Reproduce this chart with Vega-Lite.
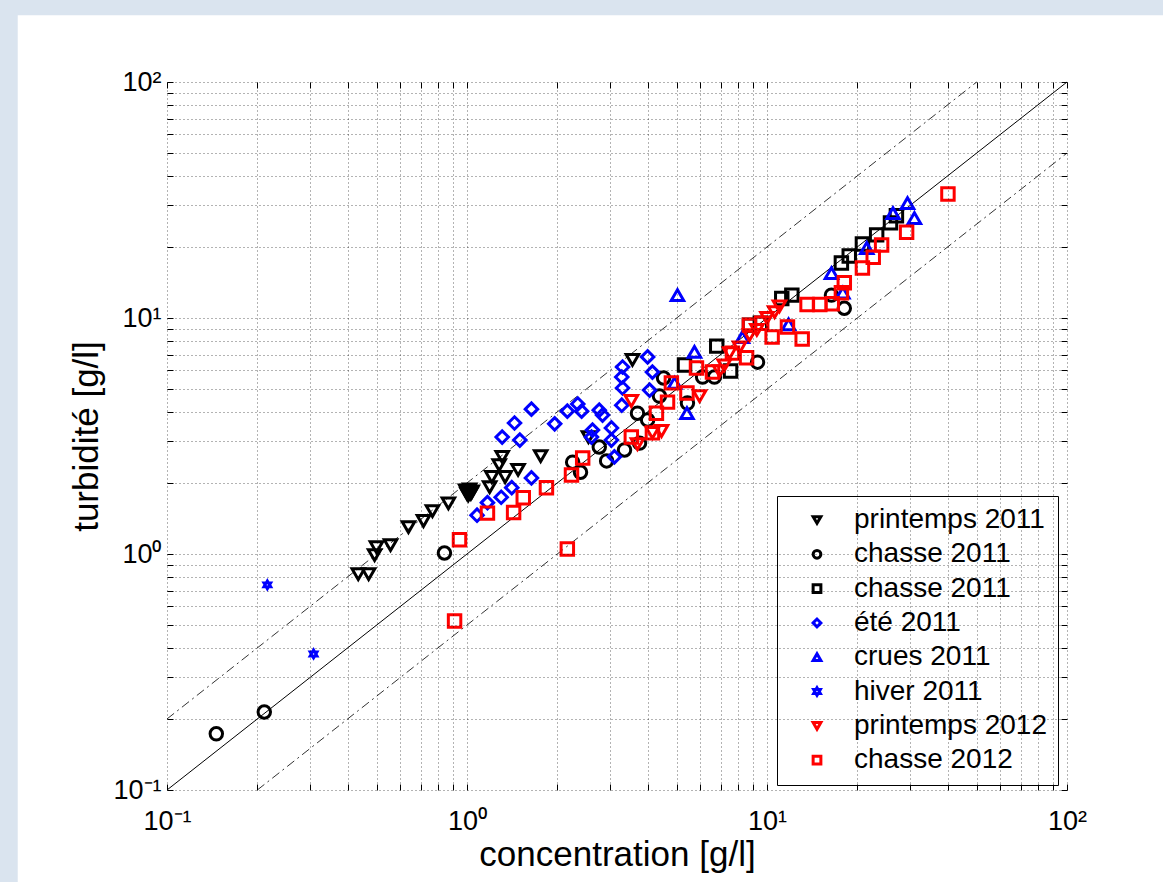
{
  "$schema": "https://vega.github.io/schema/vega-lite/v6.json",
  "width": 900,
  "height": 708,
  "autosize": {"type": "none"},
  "padding": {"left": 167, "top": 82, "right": 96, "bottom": 92},
  "background": "#dae4ef",
  "config": {
    "font": "Liberation Sans",
    "view": {"stroke": "#000", "strokeWidth": 1}
  },
  "datasets": {
    "refs": [
      {"ligne": "1:1", "concentration": 0.1, "turbidite": 0.1},
      {"ligne": "1:1", "concentration": 100, "turbidite": 100},
      {"ligne": "x2", "concentration": 0.1, "turbidite": 0.2},
      {"ligne": "x2", "concentration": 50, "turbidite": 100},
      {"ligne": "x0.5", "concentration": 0.2, "turbidite": 0.1},
      {"ligne": "x0.5", "concentration": 100, "turbidite": 50}
    ],
    "mesures": [
      {"serie": "printemps 2011", "concentration": 0.434, "turbidite": 0.822},
      {"serie": "printemps 2011", "concentration": 0.47, "turbidite": 0.822},
      {"serie": "printemps 2011", "concentration": 0.492, "turbidite": 0.99},
      {"serie": "printemps 2011", "concentration": 0.499, "turbidite": 1.07},
      {"serie": "printemps 2011", "concentration": 0.556, "turbidite": 1.09},
      {"serie": "printemps 2011", "concentration": 0.638, "turbidite": 1.3},
      {"serie": "printemps 2011", "concentration": 0.716, "turbidite": 1.38},
      {"serie": "printemps 2011", "concentration": 0.767, "turbidite": 1.52},
      {"serie": "printemps 2011", "concentration": 0.867, "turbidite": 1.64},
      {"serie": "printemps 2011", "concentration": 0.99, "turbidite": 1.86},
      {"serie": "printemps 2011", "concentration": 1.0, "turbidite": 1.8},
      {"serie": "printemps 2011", "concentration": 1.01, "turbidite": 1.84},
      {"serie": "printemps 2011", "concentration": 1.02, "turbidite": 1.88},
      {"serie": "printemps 2011", "concentration": 1.03, "turbidite": 1.8},
      {"serie": "printemps 2011", "concentration": 1.01, "turbidite": 1.77},
      {"serie": "printemps 2011", "concentration": 1.04, "turbidite": 1.84},
      {"serie": "printemps 2011", "concentration": 1.19, "turbidite": 1.92},
      {"serie": "printemps 2011", "concentration": 1.21, "turbidite": 2.12},
      {"serie": "printemps 2011", "concentration": 1.28, "turbidite": 2.38},
      {"serie": "printemps 2011", "concentration": 1.31, "turbidite": 2.58},
      {"serie": "printemps 2011", "concentration": 1.34, "turbidite": 2.12},
      {"serie": "printemps 2011", "concentration": 1.48, "turbidite": 2.27},
      {"serie": "printemps 2011", "concentration": 1.76, "turbidite": 2.6},
      {"serie": "printemps 2011", "concentration": 2.54, "turbidite": 3.13},
      {"serie": "printemps 2011", "concentration": 3.56, "turbidite": 6.64},
      {"serie": "chasse 2011", "concentration": 0.146, "turbidite": 0.173},
      {"serie": "chasse 2011", "concentration": 0.211, "turbidite": 0.214},
      {"serie": "chasse 2011", "concentration": 0.841, "turbidite": 1.01},
      {"serie": "chasse 2011", "concentration": 2.25, "turbidite": 2.45},
      {"serie": "chasse 2011", "concentration": 2.39, "turbidite": 2.22},
      {"serie": "chasse 2011", "concentration": 2.76, "turbidite": 2.84},
      {"serie": "chasse 2011", "concentration": 2.92, "turbidite": 2.48},
      {"serie": "chasse 2011", "concentration": 3.35, "turbidite": 2.76},
      {"serie": "chasse 2011", "concentration": 3.76, "turbidite": 2.95},
      {"serie": "chasse 2011", "concentration": 3.7, "turbidite": 3.95},
      {"serie": "chasse 2011", "concentration": 4.0, "turbidite": 3.7},
      {"serie": "chasse 2011", "concentration": 4.38, "turbidite": 4.67},
      {"serie": "chasse 2011", "concentration": 4.52, "turbidite": 5.57},
      {"serie": "chasse 2011", "concentration": 5.43, "turbidite": 4.36},
      {"serie": "chasse 2011", "concentration": 6.1, "turbidite": 5.62},
      {"serie": "chasse 2011", "concentration": 6.68, "turbidite": 5.62},
      {"serie": "chasse 2011", "concentration": 9.3, "turbidite": 6.5},
      {"serie": "chasse 2011", "concentration": 16.4, "turbidite": 12.5},
      {"serie": "chasse 2011", "concentration": 18.1, "turbidite": 11.0},
      {"serie": "chasse 2011 (carrés)", "concentration": 5.31, "turbidite": 6.32},
      {"serie": "chasse 2011 (carrés)", "concentration": 6.8, "turbidite": 7.6},
      {"serie": "chasse 2011 (carrés)", "concentration": 7.56, "turbidite": 5.96},
      {"serie": "chasse 2011 (carrés)", "concentration": 8.74, "turbidite": 9.33},
      {"serie": "chasse 2011 (carrés)", "concentration": 9.5, "turbidite": 9.5},
      {"serie": "chasse 2011 (carrés)", "concentration": 11.2, "turbidite": 12.1},
      {"serie": "chasse 2011 (carrés)", "concentration": 12.1, "turbidite": 12.5},
      {"serie": "chasse 2011 (carrés)", "concentration": 17.7, "turbidite": 17.1},
      {"serie": "chasse 2011 (carrés)", "concentration": 18.8, "turbidite": 18.3},
      {"serie": "chasse 2011 (carrés)", "concentration": 20.8, "turbidite": 20.6},
      {"serie": "chasse 2011 (carrés)", "concentration": 23.2, "turbidite": 22.5},
      {"serie": "chasse 2011 (carrés)", "concentration": 25.8, "turbidite": 25.3},
      {"serie": "chasse 2011 (carrés)", "concentration": 27.0, "turbidite": 27.1},
      {"serie": "été 2011", "concentration": 1.08, "turbidite": 1.46},
      {"serie": "été 2011", "concentration": 1.17, "turbidite": 1.65},
      {"serie": "été 2011", "concentration": 1.3, "turbidite": 1.74},
      {"serie": "été 2011", "concentration": 1.41, "turbidite": 1.91},
      {"serie": "été 2011", "concentration": 1.64, "turbidite": 2.1},
      {"serie": "été 2011", "concentration": 1.31, "turbidite": 3.13},
      {"serie": "été 2011", "concentration": 1.44, "turbidite": 3.59},
      {"serie": "été 2011", "concentration": 1.5, "turbidite": 3.04},
      {"serie": "été 2011", "concentration": 1.64, "turbidite": 4.11},
      {"serie": "été 2011", "concentration": 1.96, "turbidite": 3.56},
      {"serie": "été 2011", "concentration": 2.16, "turbidite": 4.03},
      {"serie": "été 2011", "concentration": 2.34, "turbidite": 4.32},
      {"serie": "été 2011", "concentration": 2.41, "turbidite": 4.03},
      {"serie": "été 2011", "concentration": 2.76, "turbidite": 4.07},
      {"serie": "été 2011", "concentration": 2.83, "turbidite": 3.88},
      {"serie": "été 2011", "concentration": 2.62, "turbidite": 3.35},
      {"serie": "été 2011", "concentration": 2.6, "turbidite": 3.13},
      {"serie": "été 2011", "concentration": 3.03, "turbidite": 3.42},
      {"serie": "été 2011", "concentration": 3.03, "turbidite": 3.04},
      {"serie": "été 2011", "concentration": 3.1, "turbidite": 2.58},
      {"serie": "été 2011", "concentration": 3.3, "turbidite": 6.2},
      {"serie": "été 2011", "concentration": 3.28, "turbidite": 5.62},
      {"serie": "été 2011", "concentration": 3.3, "turbidite": 5.05},
      {"serie": "été 2011", "concentration": 3.28, "turbidite": 4.27},
      {"serie": "été 2011", "concentration": 4.0, "turbidite": 6.84},
      {"serie": "été 2011", "concentration": 4.15, "turbidite": 5.9},
      {"serie": "été 2011", "concentration": 4.06, "turbidite": 4.95},
      {"serie": "crues 2011", "concentration": 5.03, "turbidite": 12.5},
      {"serie": "crues 2011", "concentration": 5.73, "turbidite": 7.18},
      {"serie": "crues 2011", "concentration": 5.41, "turbidite": 3.95},
      {"serie": "crues 2011", "concentration": 4.92, "turbidite": 5.31},
      {"serie": "crues 2011", "concentration": 8.28, "turbidite": 8.3},
      {"serie": "crues 2011", "concentration": 11.8, "turbidite": 9.4},
      {"serie": "crues 2011", "concentration": 16.4, "turbidite": 15.5},
      {"serie": "crues 2011", "concentration": 17.9, "turbidite": 12.8},
      {"serie": "crues 2011", "concentration": 21.5, "turbidite": 19.8},
      {"serie": "crues 2011", "concentration": 26.3, "turbidite": 27.8},
      {"serie": "crues 2011", "concentration": 29.4, "turbidite": 30.7},
      {"serie": "crues 2011", "concentration": 31.0, "turbidite": 26.5},
      {"serie": "hiver 2011", "concentration": 0.216, "turbidite": 0.74},
      {"serie": "hiver 2011", "concentration": 0.308, "turbidite": 0.377},
      {"serie": "printemps 2012", "concentration": 3.53, "turbidite": 4.45},
      {"serie": "printemps 2012", "concentration": 3.7, "turbidite": 2.92},
      {"serie": "printemps 2012", "concentration": 4.15, "turbidite": 3.26},
      {"serie": "printemps 2012", "concentration": 4.45, "turbidite": 3.32},
      {"serie": "printemps 2012", "concentration": 5.96, "turbidite": 4.67},
      {"serie": "printemps 2012", "concentration": 6.95, "turbidite": 5.96},
      {"serie": "printemps 2012", "concentration": 7.2, "turbidite": 6.3},
      {"serie": "printemps 2012", "concentration": 7.5, "turbidite": 7.1},
      {"serie": "printemps 2012", "concentration": 8.1, "turbidite": 7.5},
      {"serie": "printemps 2012", "concentration": 8.74, "turbidite": 8.47},
      {"serie": "printemps 2012", "concentration": 9.25, "turbidite": 8.9},
      {"serie": "printemps 2012", "concentration": 10.0, "turbidite": 10.0},
      {"serie": "printemps 2012", "concentration": 10.6, "turbidite": 10.6},
      {"serie": "printemps 2012", "concentration": 11.0, "turbidite": 11.2},
      {"serie": "chasse 2012", "concentration": 0.909, "turbidite": 0.52},
      {"serie": "chasse 2012", "concentration": 0.944, "turbidite": 1.15},
      {"serie": "chasse 2012", "concentration": 1.17, "turbidite": 1.49},
      {"serie": "chasse 2012", "concentration": 1.43, "turbidite": 1.5},
      {"serie": "chasse 2012", "concentration": 1.54, "turbidite": 1.73},
      {"serie": "chasse 2012", "concentration": 1.84, "turbidite": 1.91},
      {"serie": "chasse 2012", "concentration": 2.16, "turbidite": 1.05},
      {"serie": "chasse 2012", "concentration": 2.23, "turbidite": 2.16},
      {"serie": "chasse 2012", "concentration": 2.43, "turbidite": 2.55},
      {"serie": "chasse 2012", "concentration": 3.53, "turbidite": 3.13},
      {"serie": "chasse 2012", "concentration": 4.15, "turbidite": 3.26},
      {"serie": "chasse 2012", "concentration": 4.28, "turbidite": 3.95},
      {"serie": "chasse 2012", "concentration": 4.66, "turbidite": 4.4},
      {"serie": "chasse 2012", "concentration": 4.8, "turbidite": 5.31},
      {"serie": "chasse 2012", "concentration": 5.41, "turbidite": 4.81},
      {"serie": "chasse 2012", "concentration": 5.82, "turbidite": 6.14},
      {"serie": "chasse 2012", "concentration": 6.58, "turbidite": 5.9},
      {"serie": "chasse 2012", "concentration": 7.67, "turbidite": 7.1},
      {"serie": "chasse 2012", "concentration": 8.55, "turbidite": 6.78},
      {"serie": "chasse 2012", "concentration": 8.74, "turbidite": 9.33},
      {"serie": "chasse 2012", "concentration": 9.6, "turbidite": 9.5},
      {"serie": "chasse 2012", "concentration": 10.4, "turbidite": 8.3},
      {"serie": "chasse 2012", "concentration": 11.7, "turbidite": 9.16},
      {"serie": "chasse 2012", "concentration": 13.1, "turbidite": 8.15},
      {"serie": "chasse 2012", "concentration": 13.6, "turbidite": 11.4},
      {"serie": "chasse 2012", "concentration": 15.0, "turbidite": 11.4},
      {"serie": "chasse 2012", "concentration": 16.5, "turbidite": 11.5},
      {"serie": "chasse 2012", "concentration": 17.7, "turbidite": 12.8},
      {"serie": "chasse 2012", "concentration": 18.1, "turbidite": 14.1},
      {"serie": "chasse 2012", "concentration": 20.8, "turbidite": 16.3},
      {"serie": "chasse 2012", "concentration": 22.6, "turbidite": 18.1},
      {"serie": "chasse 2012", "concentration": 24.1, "turbidite": 20.4},
      {"serie": "chasse 2012", "concentration": 29.2, "turbidite": 23.1},
      {"serie": "chasse 2012", "concentration": 40.1, "turbidite": 33.5}
    ]
  },
  "layer": [
    {
      "data": {"values": [{}]},
      "mark": {"type": "rect", "color": "#ffffff", "clip": false},
      "encoding": {
        "x": {"datum": 0.0318, "type": "quantitative", "scale": {"type": "log", "domain": [0.1, 100], "nice": false}, "axis": null},
        "x2": {"datum": 1000000},
        "y": {"datum": 192, "type": "quantitative", "scale": {"type": "log", "domain": [0.1, 100], "nice": false}, "axis": null},
        "y2": {"datum": 0.000001}
      }
    },
    {
      "data": {"name": "refs"},
      "transform": [{"filter": "datum.ligne === '1:1'"}],
      "mark": {"type": "line", "color": "#000", "strokeWidth": 1},
      "encoding": {
        "x": {
          "field": "concentration", "type": "quantitative",
          "scale": {"type": "log", "domain": [0.1, 100], "nice": false},
          "axis": {
            "orient": "bottom", "zindex": 1,
            "values": [0.1,0.2,0.3,0.4,0.5,0.6,0.7,0.8,0.9,1,2,3,4,5,6,7,8,9,10,20,30,40,50,60,70,80,90,100],
            "labelExpr": "datum.value == 0.1 ? '10⁻¹' : datum.value == 1 ? '10⁰' : datum.value == 10 ? '10¹' : datum.value == 100 ? '10²' : ''",
            "labelFontSize": 27, "labelColor": "#000", "labelFlush": false, "labelOverlap": false,
            "labelPadding": 24,
            "tickSize": -6, "tickColor": "#000", "tickWidth": 1,
            "domain": false,
            "grid": true, "gridColor": "#000", "gridDash": [1, 3], "gridOpacity": 0.6, "gridWidth": 1,
            "title": "concentration [g/l]", "titleFontSize": 35, "titleFontWeight": "normal", "titleColor": "#000", "titlePadding": 3
          }
        },
        "y": {
          "field": "turbidite", "type": "quantitative",
          "scale": {"type": "log", "domain": [0.1, 100], "nice": false},
          "axis": {
            "orient": "left", "zindex": 1,
            "values": [0.1,0.2,0.3,0.4,0.5,0.6,0.7,0.8,0.9,1,2,3,4,5,6,7,8,9,10,20,30,40,50,60,70,80,90,100],
            "labelExpr": "datum.value == 0.1 ? '10⁻¹' : datum.value == 1 ? '10⁰' : datum.value == 10 ? '10¹' : datum.value == 100 ? '10²' : ''",
            "labelFontSize": 27, "labelColor": "#000", "labelFlush": false, "labelOverlap": false,
            "labelPadding": 12,
            "tickSize": -6, "tickColor": "#000", "tickWidth": 1,
            "domain": false,
            "grid": true, "gridColor": "#000", "gridDash": [1, 3], "gridOpacity": 0.6, "gridWidth": 1,
            "title": "turbidité [g/l]", "titleFontSize": 35, "titleFontWeight": "normal", "titleColor": "#000", "titlePadding": 8
          }
        }
      }
    },
    {
      "data": {"name": "refs"},
      "transform": [{"filter": "datum.ligne !== '1:1'"}],
      "mark": {"type": "line", "color": "#333", "strokeWidth": 1, "strokeDash": [9, 4, 2, 4]},
      "encoding": {
        "detail": {"field": "ligne"},
        "x": {
          "field": "concentration", "type": "quantitative",
          "scale": {"type": "log", "domain": [0.1, 100], "nice": false},
          "axis": {
            "orient": "top", "zindex": 1,
            "values": [0.1,0.2,0.3,0.4,0.5,0.6,0.7,0.8,0.9,1,2,3,4,5,6,7,8,9,10,20,30,40,50,60,70,80,90,100],
            "labels": false, "grid": false, "domain": false,
            "tickSize": -6, "tickColor": "#000", "title": null
          }
        },
        "y": {
          "field": "turbidite", "type": "quantitative",
          "scale": {"type": "log", "domain": [0.1, 100], "nice": false},
          "axis": {
            "orient": "right", "zindex": 1,
            "values": [0.1,0.2,0.3,0.4,0.5,0.6,0.7,0.8,0.9,1,2,3,4,5,6,7,8,9,10,20,30,40,50,60,70,80,90,100],
            "labels": false, "grid": false, "domain": false,
            "tickSize": -6, "tickColor": "#000", "title": null
          }
        }
      }
    },
    {
      "data": {"name": "mesures"},
      "mark": {"type": "point", "filled": false, "strokeWidth": 3, "opacity": 1},
      "encoding": {
        "x": {"field": "concentration", "type": "quantitative", "scale": {"type": "log", "domain": [0.1, 100], "nice": false}, "axis": null},
        "y": {"field": "turbidite", "type": "quantitative", "scale": {"type": "log", "domain": [0.1, 100], "nice": false}, "axis": null},
        "color": {
          "field": "serie", "type": "nominal",
          "scale": {
            "domain": ["printemps 2011", "chasse 2011", "chasse 2011 (carrés)", "été 2011", "crues 2011", "hiver 2011", "printemps 2012", "chasse 2012"],
            "range": ["#000000", "#000000", "#000000", "#0000ff", "#0000ff", "#0000ff", "#ff0000", "#ff0000"]
          },
          "legend": {
            "title": null, "orient": "none", "legendX": 610, "legendY": 414,
            "padding": 10, "symbolOffset": 16, "labelOffset": 23, "rowPadding": 6.3,
            "labelFontSize": 28, "labelColor": "#000", "labelLimit": 400,
            "labelExpr": "datum.label == 'chasse 2011 (carrés)' ? 'chasse 2011' : datum.label",
            "strokeColor": "#000", "fillColor": "#fff",
            "symbolSize": 60, "symbolStrokeWidth": 3
          }
        },
        "shape": {
          "field": "serie", "type": "nominal",
          "scale": {
            "domain": ["printemps 2011", "chasse 2011", "chasse 2011 (carrés)", "été 2011", "crues 2011", "hiver 2011", "printemps 2012", "chasse 2012"],
            "range": ["triangle-down", "circle", "square", "diamond", "triangle-up", "M0,-1L0.289,-0.5L0.866,-0.5L0.577,0L0.866,0.5L0.289,0.5L0,1L-0.289,0.5L-0.866,0.5L-0.577,0L-0.866,-0.5L-0.289,-0.5Z", "triangle-down", "square"]
          },
          "legend": {
            "title": null, "orient": "none", "legendX": 610, "legendY": 414,
            "labelExpr": "datum.label == 'chasse 2011 (carrés)' ? 'chasse 2011' : datum.label"
          }
        },
        "size": {"condition": {"test": "datum.serie === 'hiver 2011'", "value": 60}, "value": 155}
      }
    }
  ],
  "resolve": {"axis": {"x": "independent", "y": "independent"}}
}
